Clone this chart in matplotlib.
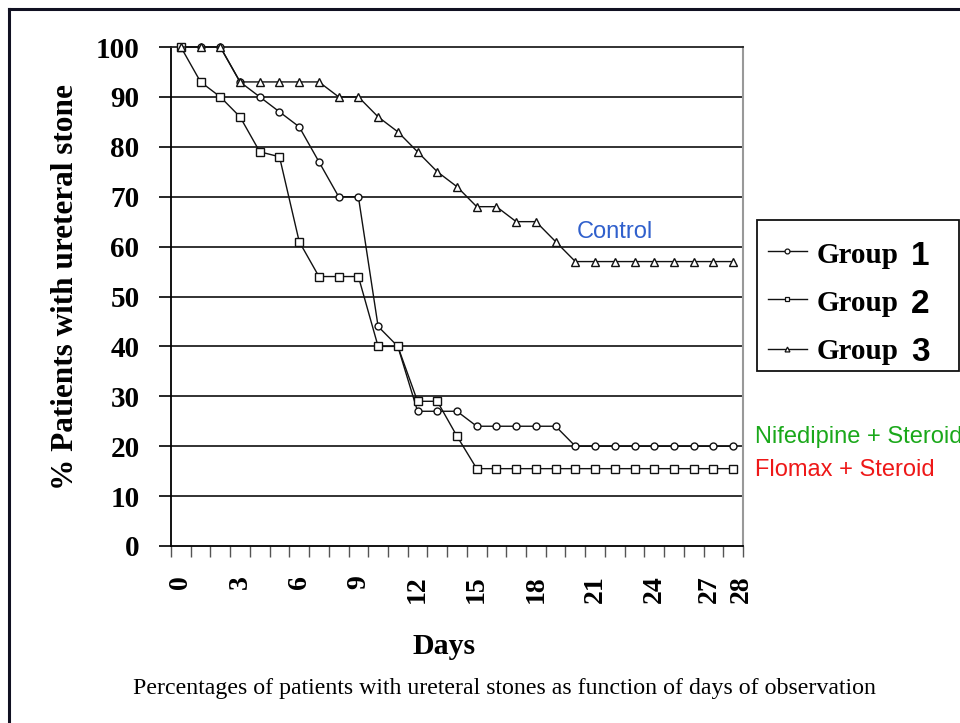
import numpy as np
import matplotlib
matplotlib.use("Agg")
import matplotlib.pyplot as plt
import matplotlib.transforms as mtransforms
from matplotlib.lines import Line2D
from matplotlib.patches import Rectangle

# --- data (days 0..28) ---
days = np.arange(0, 29)
group1 = [100, 100, 100, 93, 90, 87, 84, 77, 70, 70,
          44, 40, 27, 27, 27, 24, 24, 24, 24, 24,
          20, 20, 20, 20, 20, 20, 20, 20, 20]          # Nifedipine + Steroid
group2 = [100, 93, 90, 86, 79, 78, 61, 54, 54, 54,
          40, 40, 29, 29, 22, 15.5, 15.5, 15.5, 15.5, 15.5,
          15.5, 15.5, 15.5, 15.5, 15.5, 15.5, 15.5, 15.5, 15.5]  # Flomax + Steroid
group3 = [100, 100, 100, 93, 93, 93, 93, 93, 90, 90,
          86, 83, 79, 75, 72, 68, 68, 65, 65, 61,
          57, 57, 57, 57, 57, 57, 57, 57, 57]          # Control
series = [("1", group1, "o", 5.0), ("2", group2, "s", 5.5), ("3", group3, "^", 6.0)]
xtick_days = [0, 3, 6, 9, 12, 15, 18, 21, 24, 27, 28]
yticks = list(range(0, 101, 10))

SERIF = "Liberation Serif"
SANS = "Liberation Sans"
W, H = 960, 723

def fx(px):
    return px / W

def fy(py):
    return 1 - py / H

fig = plt.figure(figsize=(9.6, 7.23), dpi=100)
ax = fig.add_axes([fx(171), fy(546), fx(743) - fx(171), fy(47) - fy(546)])

# lines
for name, vals, mk, ms in series:
    ax.plot(days, vals, color="#111111", lw=1.0, marker=mk, ms=ms,
            mfc="white", mec="#111111", mew=1.0, clip_on=False, zorder=3)

ax.set_xlim(-0.5, 28.5)
ax.set_ylim(0, 100)

# grid & spines
for v in yticks[1:-1]:
    ax.axhline(v, color="#222222", lw=1.3, zorder=1)
ax.spines["top"].set_color("#222222")
ax.spines["top"].set_linewidth(1.3)
ax.spines["right"].set_color("#999999")
ax.spines["right"].set_linewidth(1.5)
ax.spines["left"].set_linewidth(1.3)
ax.spines["bottom"].set_linewidth(1.3)

# ticks
ax.set_yticks(yticks)
ax.set_yticklabels([str(v) for v in yticks], fontfamily=SERIF, fontweight="bold", fontsize=21)
ax.tick_params(axis="y", direction="out", length=8.6, width=1.2, pad=14)

ax.set_xticks(xtick_days)
ax.set_xticklabels([str(d) for d in xtick_days], fontfamily=SERIF, fontweight="bold",
                   fontsize=20, rotation=90)
ax.set_xticks(np.arange(-0.5, 29, 1), minor=True)
ax.tick_params(axis="x", which="major", length=0, pad=21)
ax.tick_params(axis="x", which="minor", direction="out", length=8, width=1.0, color="#555555")

# nudge the crowded last two labels apart, as in the reference
for lab, dx in zip(ax.get_xticklabels()[-2:], (-4, 8)):
    lab.set_transform(lab.get_transform() + mtransforms.ScaledTranslation(dx / 100, 0, fig.dpi_scale_trans))

# axis titles
fig.text(fx(66), fy(287), "% Patients with ureteral stone", rotation=90, ha="center",
         va="center", fontfamily=SERIF, fontweight="bold", fontsize=22.5)
fig.text(fx(444), fy(654), "Days", ha="center", va="baseline",
         fontfamily=SERIF, fontweight="bold", fontsize=21.5)
fig.text(fx(133), fy(694), "Percentages of patients with ureteral stones as function of days of observation",
         ha="left", va="baseline", fontfamily=SERIF, fontsize=17.2)

# legend drawn by hand (mixed fonts)
fig.patches.append(Rectangle((fx(757), fy(371)), fx(959) - fx(757), fy(220) - fy(371),
                             transform=fig.transFigure, fill=True, facecolor="white",
                             edgecolor="#111111", lw=1.3))
row_line = [251, 299, 349]
row_base = [263, 311, 359]
for (name, vals, mk, ms), ly, by in zip(series, row_line, row_base):
    fig.lines.append(Line2D([fx(768), fx(807)], [fy(ly), fy(ly)], transform=fig.transFigure,
                            color="#111111", lw=1.0))
    fig.lines.append(Line2D([fx(787)], [fy(ly)], transform=fig.transFigure, marker=mk,
                            ms=3.5, mfc="white", mec="#111111", mew=0.9, lw=0))
    fig.text(fx(817), fy(by), "Group", ha="left", va="baseline", fontfamily=SERIF,
             fontweight="bold", fontsize=21)
    fig.text(fx(911), fy(by + 2), name, ha="left", va="baseline", fontfamily=SANS,
             fontweight="bold", fontsize=24)

# colored annotations
fig.text(fx(577), fy(238), "Control", color="#3060cc", fontfamily=SANS, fontsize=17,
         ha="left", va="baseline")
fig.text(fx(755), fy(443), "Nifedipine + Steroid", color="#1aa81a", fontfamily=SANS,
         fontsize=17, ha="left", va="baseline")
fig.text(fx(755), fy(476), "Flomax + Steroid", color="#ee1818", fontfamily=SANS,
         fontsize=17, ha="left", va="baseline")

# outer frame (left and top edges)
fig.lines.append(Line2D([fx(9), fx(9)], [0, fy(9)], transform=fig.transFigure,
                        color="#111122", lw=2.2))
fig.lines.append(Line2D([fx(9), 1], [fy(9), fy(9)], transform=fig.transFigure,
                        color="#111122", lw=2.2))

fig.savefig("out.png", dpi=100)
